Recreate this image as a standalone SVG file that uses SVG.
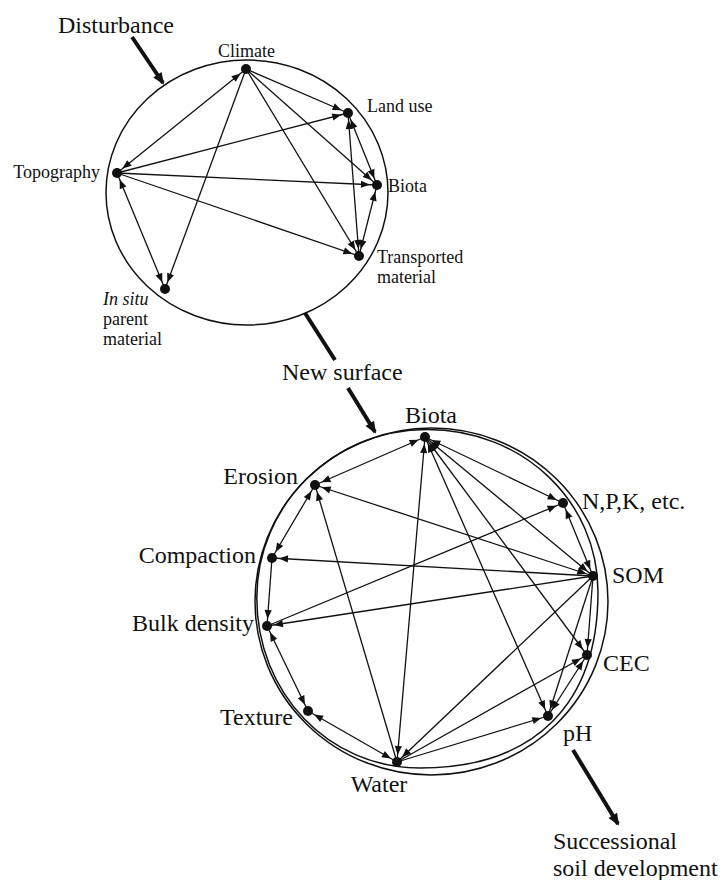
<svg xmlns="http://www.w3.org/2000/svg" width="727" height="880" viewBox="0 0 727 880">
  <style>
    .bg { fill: #fff; }
    .ring { fill: none; stroke: #111; stroke-width: 1.5; }
    .dot { fill: #111; }
    .lbl { font-family: "Liberation Serif", "Times New Roman", serif; fill: #111; }
    .sm { font-size: 18px; }
    .lg { font-size: 24px; }
    .it { font-style: italic; }
    .edge { stroke: #111; stroke-width: 1.3; fill: none; }
    .uni { marker-end: url(#tip); }
    .bi { marker-start: url(#tip); marker-end: url(#tip); }
    .flow { stroke: #111; stroke-width: 4; fill: none; }
    .flowhead { marker-end: url(#bigtip); }
  </style>
  <defs>
    <!-- small arrowhead; tip sits 7px short of the line end (the dot centre) -->
    <marker id="tip" markerUnits="userSpaceOnUse" markerWidth="20" markerHeight="10" refX="16" refY="0" orient="auto-start-reverse" overflow="visible">
      <path d="M0,-3.6 L9,0 L0,3.6 z" fill="#111"/>
    </marker>
    <!-- heavy arrowhead for the process arrows -->
    <marker id="bigtip" markerUnits="userSpaceOnUse" markerWidth="14" markerHeight="12" refX="10" refY="0" orient="auto" overflow="visible">
      <path d="M0,-5 L12,0 L0,5 z" fill="#111"/>
    </marker>
  </defs>

  <rect class="bg" x="0" y="0" width="727" height="880"/>

  <!-- upper ring: state factors -->
  <ellipse id="upper-ring" class="ring" cx="247" cy="192.5" rx="141" ry="132.5"/>

  <!-- lower ring: soil properties (double outline, the inner one hugging the upper left) -->
  <g id="lower-ring">
    <ellipse class="ring" cx="431.5" cy="601.5" rx="176.5" ry="173.5"/>
    <path class="ring" d="M427,429.5 C522.8,429.5 598,501 598,592 C598,704.6 533.9,768 420,768 C328.6,768 256.8,693.2 256.8,598 C256.8,504.9 333,429.5 427,429.5 Z"/>
  </g>

  <!-- process arrows -->
  <g id="process-arrows">
    <line class="flow flowhead" x1="132" y1="37" x2="163" y2="83"/>
    <line class="flow" x1="305" y1="313" x2="335" y2="360"/>
    <line class="flow flowhead" x1="348" y1="388" x2="375" y2="432"/>
    <line class="flow flowhead" x1="573" y1="750" x2="618" y2="824"/>
  </g>

  <!-- connectors -->
  <g id="connectors">
    <!-- upper ring -->
    <line class="edge bi" x1="246" y1="69" x2="117" y2="173"/>
    <line class="edge uni" x1="246" y1="69" x2="165" y2="289"/>
    <line class="edge uni" x1="246" y1="69" x2="348" y2="113"/>
    <line class="edge uni" x1="246" y1="69" x2="377" y2="185"/>
    <line class="edge uni" x1="246" y1="69" x2="359" y2="256"/>
    <line class="edge uni" x1="117" y1="173" x2="348" y2="113"/>
    <line class="edge uni" x1="117" y1="173" x2="377" y2="185"/>
    <line class="edge uni" x1="117" y1="173" x2="359" y2="256"/>
    <line class="edge bi" x1="117" y1="173" x2="165" y2="289"/>
    <line class="edge bi" x1="348" y1="113" x2="359" y2="256"/>
    <line class="edge bi" x1="348" y1="113" x2="377" y2="185"/>
    <line class="edge bi" x1="377" y1="185" x2="359" y2="256"/>

    <!-- lower ring -->
    <line class="edge bi" x1="425" y1="437" x2="315" y2="485"/>
    <line class="edge bi" x1="425" y1="437" x2="563" y2="503"/>
    <line class="edge bi" x1="425" y1="437" x2="593" y2="576"/>
    <line class="edge bi" x1="425" y1="437" x2="587" y2="655"/>
    <line class="edge bi" x1="425" y1="437" x2="548" y2="716"/>
    <line class="edge bi" x1="425" y1="437" x2="397" y2="762"/>
    <line class="edge bi" x1="315" y1="485" x2="272" y2="558"/>
    <line class="edge bi" x1="315" y1="485" x2="593" y2="576"/>
    <line class="edge uni" x1="397" y1="762" x2="315" y2="485"/>
    <line class="edge uni" x1="272" y1="558" x2="267" y2="626"/>
    <line class="edge uni" x1="593" y1="576" x2="272" y2="558"/>
    <line class="edge uni" x1="593" y1="576" x2="267" y2="626"/>
    <line class="edge uni" x1="267" y1="626" x2="563" y2="503"/>
    <line class="edge bi" x1="267" y1="626" x2="308" y2="711"/>
    <line class="edge bi" x1="308" y1="711" x2="397" y2="762"/>
    <line class="edge uni" x1="593" y1="576" x2="397" y2="762"/>
    <line class="edge uni" x1="397" y1="762" x2="587" y2="655"/>
    <line class="edge uni" x1="397" y1="762" x2="548" y2="716"/>
    <line class="edge bi" x1="563" y1="503" x2="593" y2="576"/>
    <line class="edge uni" x1="593" y1="576" x2="587" y2="655"/>
    <line class="edge uni" x1="593" y1="576" x2="548" y2="716"/>
    <line class="edge bi" x1="587" y1="655" x2="548" y2="716"/>
  </g>

  <!-- upper ring nodes -->
  <g id="climate">
    <circle class="dot" cx="246" cy="69" r="5"/>
    <text class="lbl sm" x="218" y="57">Climate</text>
  </g>
  <g id="land-use">
    <circle class="dot" cx="348" cy="113" r="5"/>
    <text class="lbl sm" x="367" y="112">Land use</text>
  </g>
  <g id="topography">
    <circle class="dot" cx="117" cy="173" r="5"/>
    <text class="lbl sm" x="100" y="178" text-anchor="end">Topography</text>
  </g>
  <g id="biota-upper">
    <circle class="dot" cx="377" cy="185" r="5"/>
    <text class="lbl sm" x="388" y="192">Biota</text>
  </g>
  <g id="transported-material">
    <circle class="dot" cx="359" cy="256" r="5"/>
    <text class="lbl sm" x="377" y="263">Transported</text>
    <text class="lbl sm" x="377" y="283">material</text>
  </g>
  <g id="in-situ-parent-material">
    <circle class="dot" cx="165" cy="289" r="5"/>
    <text class="lbl sm it" x="103" y="305">In situ</text>
    <text class="lbl sm" x="103" y="325">parent</text>
    <text class="lbl sm" x="103" y="345">material</text>
  </g>

  <!-- lower ring nodes -->
  <g id="biota">
    <circle class="dot" cx="425" cy="437" r="5"/>
    <text class="lbl lg" x="405" y="423">Biota</text>
  </g>
  <g id="erosion">
    <circle class="dot" cx="315" cy="485" r="5"/>
    <text class="lbl lg" x="298" y="484" text-anchor="end">Erosion</text>
  </g>
  <g id="npk">
    <circle class="dot" cx="563" cy="503" r="5"/>
    <text class="lbl lg" x="582" y="509">N,P,K, etc.</text>
  </g>
  <g id="compaction">
    <circle class="dot" cx="272" cy="558" r="5"/>
    <text class="lbl lg" x="256" y="563" text-anchor="end">Compaction</text>
  </g>
  <g id="som">
    <circle class="dot" cx="593" cy="576" r="5"/>
    <text class="lbl lg" x="612" y="583">SOM</text>
  </g>
  <g id="bulk-density">
    <circle class="dot" cx="267" cy="626" r="5"/>
    <text class="lbl lg" x="254" y="631" text-anchor="end">Bulk density</text>
  </g>
  <g id="cec">
    <circle class="dot" cx="587" cy="655" r="5"/>
    <text class="lbl lg" x="603" y="671">CEC</text>
  </g>
  <g id="texture">
    <circle class="dot" cx="308" cy="711" r="5"/>
    <text class="lbl lg" x="293" y="725" text-anchor="end">Texture</text>
  </g>
  <g id="ph">
    <circle class="dot" cx="548" cy="716" r="5"/>
    <text class="lbl lg" x="563" y="741">pH</text>
  </g>
  <g id="water">
    <circle class="dot" cx="397" cy="762" r="5"/>
    <text class="lbl lg" x="379" y="792" text-anchor="middle">Water</text>
  </g>

  <!-- process labels -->
  <g id="process-labels">
    <text class="lbl lg" x="58" y="33">Disturbance</text>
    <text class="lbl lg" x="282" y="380">New surface</text>
    <text class="lbl lg" x="553" y="849">Successional</text>
    <text class="lbl lg" x="553" y="876">soil development</text>
  </g>
</svg>
